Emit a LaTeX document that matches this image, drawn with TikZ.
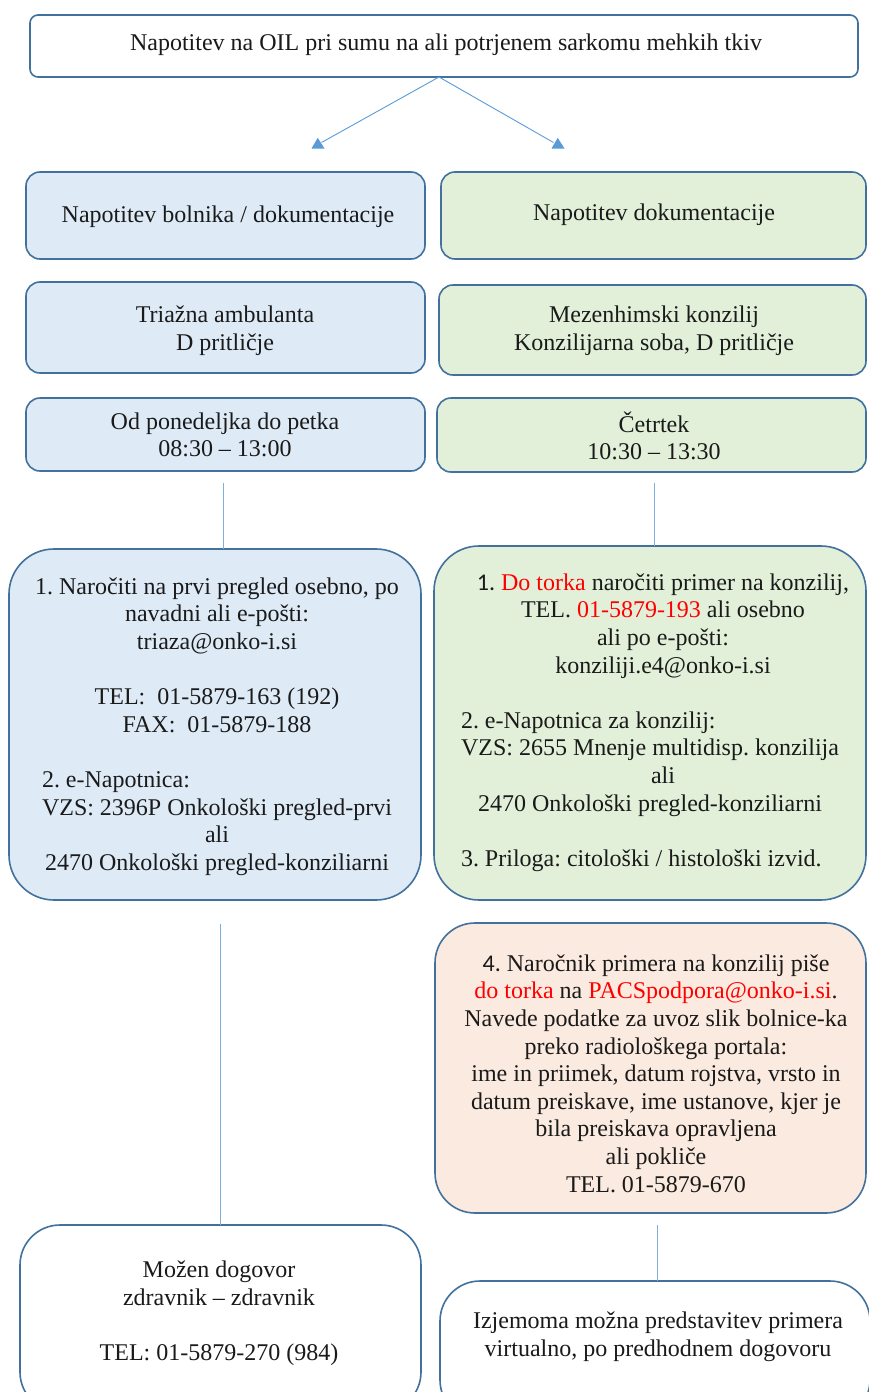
\documentclass[tikz,border=0pt]{standalone}
\usepackage{fontspec}
\setmainfont{Liberation Serif}
\newfontfamily\calfont{Carlito}
\definecolor{bord}{HTML}{41719C}
\definecolor{connc}{HTML}{5B9BD5}
\definecolor{lconn}{HTML}{7EAEDC}
\definecolor{fblue}{HTML}{DEEBF7}
\definecolor{fgreen}{HTML}{E2F0D9}
\definecolor{fpeach}{HTML}{FBEADF}
\definecolor{txt}{HTML}{1A1A1A}
\definecolor{redt}{HTML}{FF0000}
\frenchspacing
\begin{document}
\begin{tikzpicture}[x=1pt,y=-1pt,
  box/.style={draw=bord, line width=1.6pt, inner sep=0pt, outer sep=0pt},
  txtn/.style={font=\fontsize{24}{27.6}\selectfont\frenchspacing, align=center, inner sep=0pt, text=txt},
  cline/.style={draw=lconn, line width=0.9pt},
  aline/.style={draw=connc, line width=0.9pt},
]
\useasboundingbox (0,0) rectangle (868,1392);
\fill[white] (0,0) rectangle (868,1392);

% boxes
\node[box, fill=white, rounded corners=8pt, minimum width=828pt, minimum height=62pt] (top) at (444,46) {};
\node[box, fill=fblue, rounded corners=14pt, minimum width=399pt, minimum height=87pt] (r1l) at (225.5,215.5) {};
\node[box, fill=fgreen, rounded corners=14pt, minimum width=425pt, minimum height=87pt] (r1r) at (653.5,215.5) {};
\node[box, fill=fblue, rounded corners=14pt, minimum width=399pt, minimum height=91pt] (r2l) at (225.5,327.5) {};
\node[box, fill=fgreen, rounded corners=14pt, minimum width=427pt, minimum height=90pt] (r2r) at (652.5,330) {};
\node[box, fill=fblue, rounded corners=14pt, minimum width=399pt, minimum height=73pt] (r3l) at (225.5,434.5) {};
\node[box, fill=fgreen, rounded corners=14pt, minimum width=429pt, minimum height=74pt] (r3r) at (651.5,435) {};
\node[box, fill=fblue, rounded corners=45pt, minimum width=412pt, minimum height=351pt] (bigL) at (215,724.5) {};
\node[box, fill=fgreen, rounded corners=45pt, minimum width=432pt, minimum height=354pt] (bigR) at (650,723) {};
\node[box, fill=fpeach, rounded corners=40pt, minimum width=431pt, minimum height=290pt] (box4) at (650.5,1068) {};
\node[box, fill=white, rounded corners=40pt, minimum width=401pt, minimum height=187pt] (bL) at (220.5,1318.5) {};
\node[box, fill=white, rounded corners=40pt, minimum width=430pt, minimum height=139pt] (bR) at (655,1350.5) {};

% texts
\node[txtn] (top-t) at (446,45) {Napotitev na OIL pri sumu na ali potrjenem sarkomu mehkih tkiv};
\node[txtn] (r1l-t) at (228,217) {Napotitev bolnika / dokumentacije};
\node[txtn] (r1r-t) at (654,215) {Napotitev dokumentacije};
\node[txtn] (r2l-t) at (225,331) {Triažna ambulanta\\D pritličje};
\node[txtn] (r2r-t) at (654,331) {Mezenhimski konzilij\\Konzilijarna soba, D pritličje};
\node[txtn] (r3l-t) at (225,435) {Od ponedeljka do petka\\08:30 – 13:00};
\node[txtn] (r3r-t) at (654,436) {Četrtek\\10:30 – 13:30};

\node[txtn] (bigL-t) at (217,726.5) {1. Naročiti na prvi pregled osebno, po\\
navadni ali e-pošti:\\
triaza@onko-i.si\\[27.6pt]
TEL:\ \ 01-5879-163 (192)\hspace*{18pt}\\
FAX:\ \ 01-5879-188\\[27.6pt]
\rlap{2. e-Napotnica:}\phantom{VZS: 2396P Onkološki pregled-prvi}\hspace*{20pt}\\
VZS: 2396P Onkološki pregled-prvi\hspace*{20pt}\\
ali\\
2470 Onkološki pregled-konziliarni};

\node[txtn] (bigR-t) at (650,722.5) {\hspace*{26pt}{\calfont 1.} \textcolor{redt}{Do torka} naročiti primer na konzilij,\\
\hspace*{26pt}TEL. \textcolor{redt}{01-5879-193} ali osebno\\
\hspace*{26pt}ali po e-pošti:\\
\hspace*{26pt}konziliji.e4@onko-i.si\\[27.6pt]
\rlap{2. e-Napotnica za konzilij:}\phantom{VZS: 2655 Mnenje multidisp. konzilija}\\
VZS: 2655 Mnenje multidisp. konzilija\\
\hspace*{26pt}ali\\
2470 Onkološki pregled-konziliarni\\[27.6pt]
\rlap{3. Priloga: citološki / histološki izvid.}\phantom{VZS: 2655 Mnenje multidisp. konzilija}};

\node[txtn] (box4-t) at (656,1073.5) {{\calfont 4.} Naročnik primera na konzilij piše\\
\textcolor{redt}{do torka} na \textcolor{redt}{PACSpodpora@onko-i.si}.\\
Navede podatke za uvoz slik bolnice-ka\\
preko radiološkega portala:\\
ime in priimek, datum rojstva, vrsto in\\
datum preiskave, ime ustanove, kjer je\\
bila preiskava opravljena\\
ali pokliče\\
TEL. 01-5879-670};

\node[txtn] (bL-t) at (219,1313) {Možen dogovor\\zdravnik – zdravnik\\[27.6pt]TEL: 01-5879-270 (984)};
\node[txtn] (bR-t) at (658,1336.5) {Izjemoma možna predstavitev primera\\virtualno, po predhodnem dogovoru};

% arrows from top box
\coordinate (al) at (321.5,142.5);
\coordinate (ar) at (553.5,142.5);
\draw[aline] ([xshift=-5pt]top.south) -- (al);
\draw[aline] ([xshift=-5pt]top.south) -- (ar);
\fill[connc] (317.7,137.8) -- (311.5,148.5) -- (324.5,148.5) -- cycle;
\fill[connc] (557.7,137.8) -- (551.5,148.5) -- (564.5,148.5) -- cycle;

% vertical connectors
\draw[cline] ([xshift=-2.5pt,yshift=-12pt]r3l.south) -- ([xshift=-2.5pt]r3l.south |- bigL.north);
\draw[cline] ([xshift=2.5pt,yshift=-11pt]r3r.south) -- ([xshift=2.5pt]r3r.south |- bigR.north);
\draw[cline] ([xshift=5pt,yshift=-24pt]bigL.south) -- ([xshift=5pt]bigL.south |- bL.north);
\draw[cline] ([xshift=6.5pt,yshift=-12pt]box4.south) -- ([xshift=6.5pt]box4.south |- bR.north);
\end{tikzpicture}
\end{document}
